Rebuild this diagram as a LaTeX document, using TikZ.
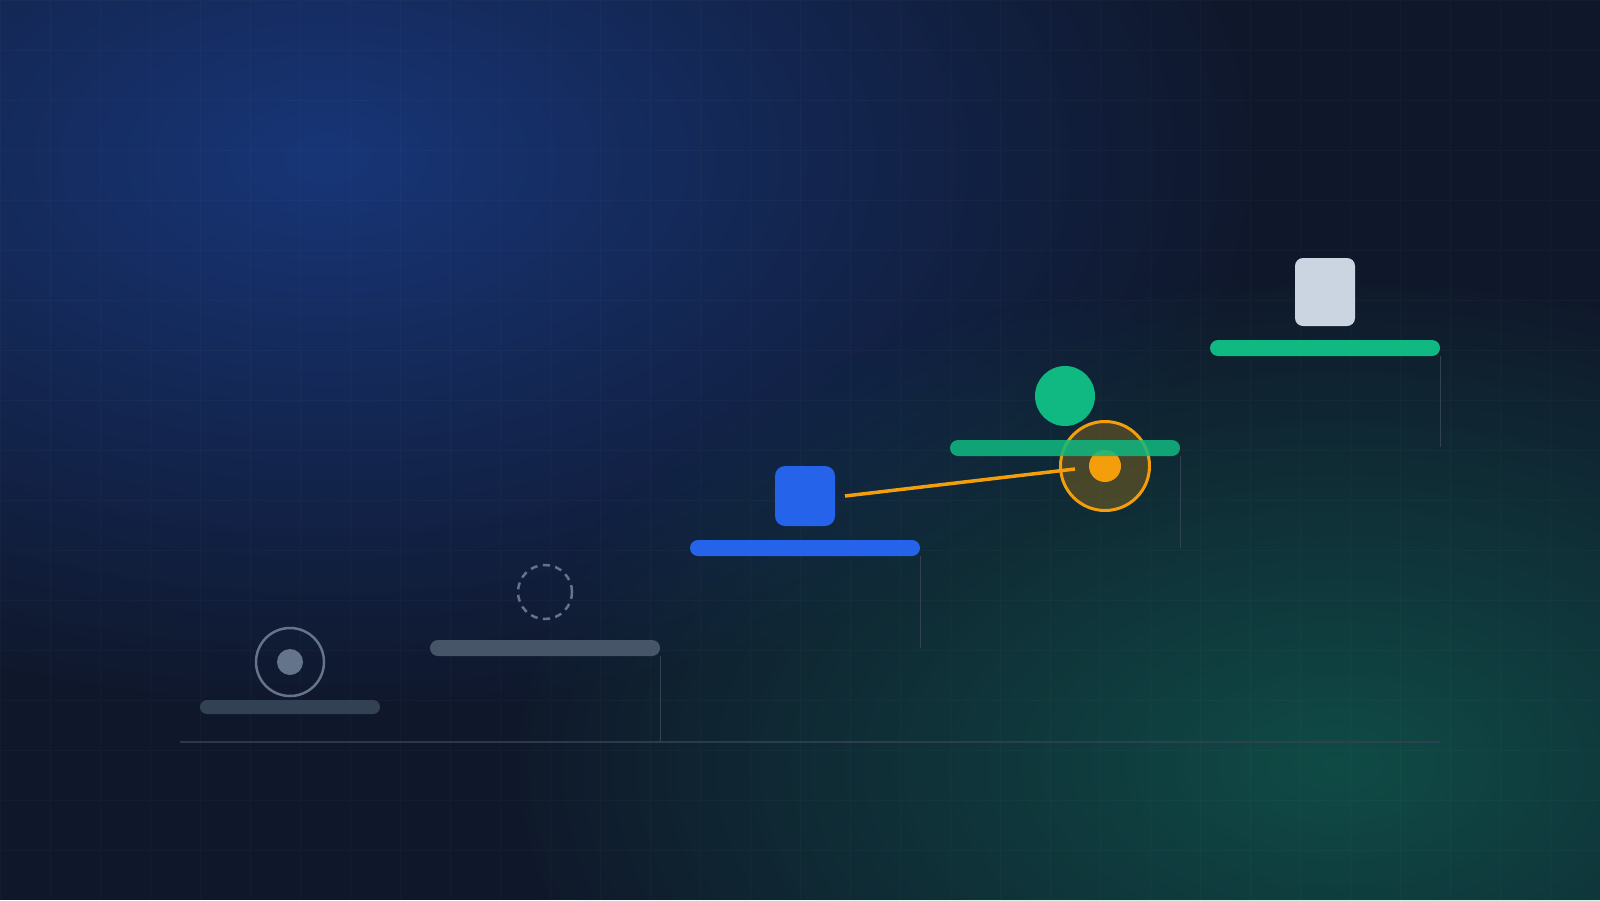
\documentclass[tikz,border=0pt]{standalone}
\usepackage{xcolor}
\usepackage{tikz}
\usetikzlibrary{positioning,fadings}

\definecolor{bgnavy}{HTML}{0F172A}
\definecolor{glowblue}{HTML}{2563EB}
\definecolor{glowgreen}{HTML}{10B981}
\definecolor{slatedark}{HTML}{334155}
\definecolor{slatemid}{HTML}{475569}
\definecolor{slatelight}{HTML}{64748B}
\definecolor{cubeblue}{HTML}{2563EB}
\definecolor{gemgreen}{HTML}{10B981}
\definecolor{flagwhite}{HTML}{CBD5E1}
\definecolor{aimorange}{HTML}{F59E0B}
\tikzfading[name=glowfade, inner color=transparent!0, outer color=transparent!100]

\begin{document}
\begin{tikzpicture}[
    x=1pt, y=-1pt,
    nosep/.style={inner sep=0, outer sep=0},
    ledge/.style={rectangle, nosep, rounded corners=8pt, minimum width=230pt, minimum height=16pt},
    token/.style={circle, nosep},
    block/.style={rectangle, nosep, rounded corners=10pt, minimum width=60pt, minimum height=60pt},
    dropline/.style={draw=slatedark, line width=1pt},
    gridline/.style={draw=white, draw opacity=0.025, line width=1pt}]

\useasboundingbox (0,0) rectangle (1600,900);
\clip (0,0) rectangle (1600,900);
\path[fill=bgnavy] (0,0) rectangle (1600,900);
\path[fill=glowblue, fill opacity=0.40, path fading=glowfade] (327,158) ellipse [x radius=950pt, y radius=560pt];
\path[fill=glowgreen, fill opacity=0.32, path fading=glowfade] (1337,765) ellipse [x radius=850pt, y radius=500pt];
\path[gridline] (0,0) grid[step=50pt] (1600,900);

\coordinate (floorL) at (180,742);
\coordinate (floorR) at (1440,742);
\path[draw=slatedark, line width=1.5pt, draw opacity=0.8] (floorL) -- (floorR);

\node[ledge, fill=slatedark, minimum width=180pt, minimum height=14pt, rounded corners=7pt] (ledge1) at (290,707) {};
\node[ledge, fill=slatemid] (ledge2) at (545,648) {};
\node[ledge, fill=cubeblue] (ledge3) at (805,548) {};
\node[ledge, fill=gemgreen] (ledge5) at (1325,348) {};

\node[token, draw=slatelight, line width=2.5pt, minimum size=68pt, above=4pt of ledge1] (orb) {};
\node[token, fill=slatelight, minimum size=26pt] (orbcore) at (orb.center) {};
\node[token, draw=slatelight, line width=2.5pt, dash pattern=on 7pt off 5.5pt, minimum size=54pt, above=21pt of ledge2] (ghost) {};
\node[block, fill=cubeblue, above=14pt of ledge3] (cube) {};

\node[token, draw=aimorange, fill=aimorange, fill opacity=0.25, line width=3pt, minimum size=89pt] (target) at (1105,466) {};
\node[token, fill=aimorange, minimum size=32pt] (targetcore) at (target.center) {};
\coordinate (aimtip) at (1075,469);
\path[draw=aimorange, line width=3.5pt] ([xshift=10pt]cube.east) -- (aimtip);

\node[ledge, fill=gemgreen, fill opacity=0.85] (ledge4) at (1065,448) {};
\node[token, fill=gemgreen, minimum size=60pt, above=14pt of ledge4] (gem) {};
\node[block, fill=flagwhite, minimum height=68pt, rounded corners=8pt, above=14pt of ledge5] (flag) {};

\path[dropline] (ledge2.south east) -- (ledge2.south east |- floorL);
\path[dropline] (ledge3.south east) -- ++(0,92);
\path[dropline] (ledge4.south east) -- ++(0,92);
\path[dropline] (ledge5.south east) -- ++(0,91);

\end{tikzpicture}
\end{document}
